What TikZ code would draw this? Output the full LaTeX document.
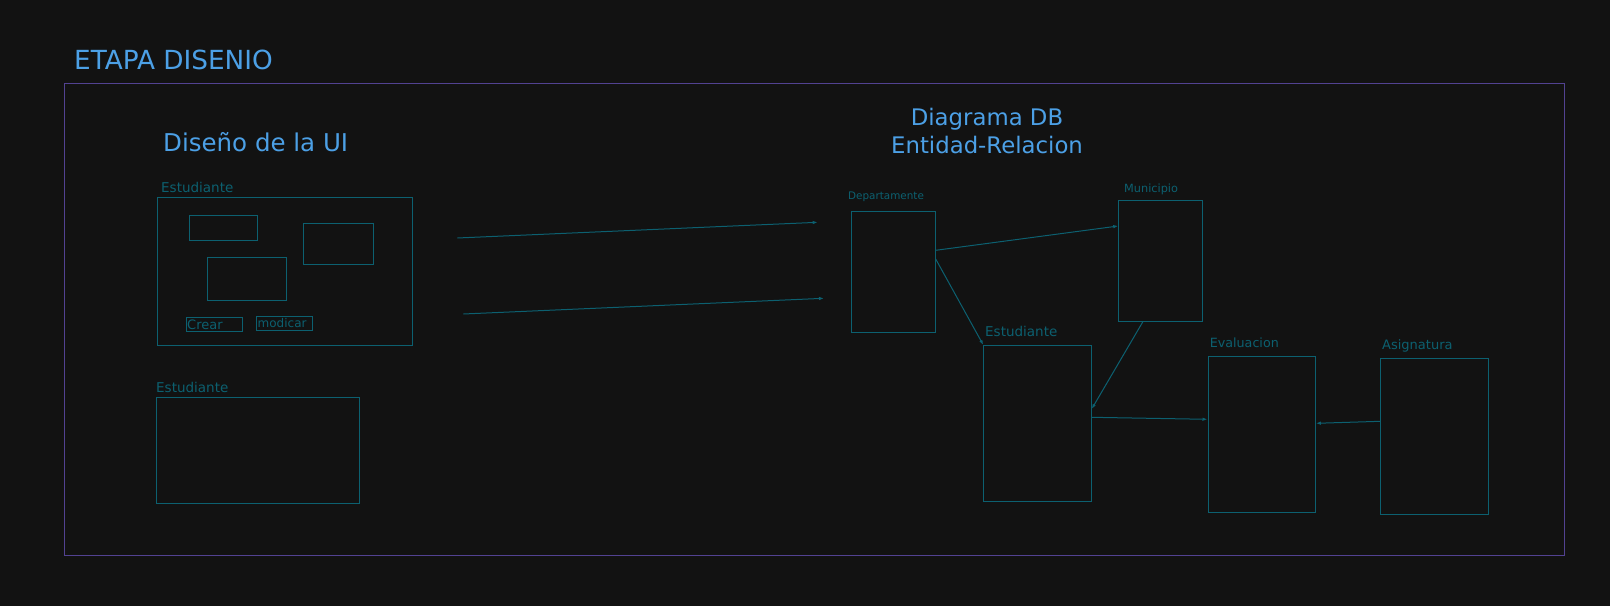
\documentclass[tikz,border=0pt]{standalone}
\usepackage{fontspec}
\setmainfont{DejaVu Sans}
\usetikzlibrary{arrows.meta}
\definecolor{bgc}{RGB}{18,18,18}
\definecolor{framec}{RGB}{82,66,145}
\definecolor{titlec}{RGB}{76,160,230}
\definecolor{tealc}{RGB}{12,96,112}
\begin{document}
\begin{tikzpicture}[x=1pt,y=-1pt,
  box/.style={draw=tealc,line width=1pt,inner sep=0pt},
  lbl/.style={text=tealc,font=\fontsize{13.5}{14}\selectfont,anchor=west,inner sep=0pt},
  ttl/.style={text=titlec,inner sep=0pt},
  conn/.style={draw=tealc,line width=1pt,-{Latex[length=5pt,width=3.5pt]}}]
\fill[bgc] (0,0) rectangle (1610,606);
\useasboundingbox (0,0) rectangle (1610,606);
% frame
\draw[framec,line width=1.3pt] (64.3,83.7) rectangle (1564.3,555.7);
\node[ttl,anchor=base west,font=\fontsize{26.3}{28}\selectfont] (etapa) at (74,69) {ETAPA DISENIO};
\node[ttl,anchor=base west,font=\fontsize{24.5}{28}\selectfont] (ui) at (163,151) {Diseño de la UI};
\node[ttl,align=center,font=\fontsize{22.8}{28}\selectfont] (db) at (987,131) {Diagrama DB\\Entidad-Relacion};
% UI mockups
\node[lbl] (l1) at (161,187) {Estudiante};
\draw[box] (157.3,197.3) rectangle (412.3,345.3);
\draw[box] (189.3,215.3) rectangle (257.3,240);
\draw[box] (303.3,223.3) rectangle (373.3,264.3);
\draw[box] (207.3,257.3) rectangle (286.3,300.3);
\draw[box] (186,317.3) rectangle (242.3,331.3);
\node[lbl,font=\fontsize{13}{13}\selectfont] (crear) at (187,324.5) {Crear};
\draw[box] (256.3,316.3) rectangle (312.3,330.3);
\node[lbl,font=\fontsize{12}{12}\selectfont] (mod) at (257.5,323.5) {modicar};
\node[lbl] (l2) at (156,387.3) {Estudiante};
\draw[box] (156.3,397.3) rectangle (359.3,503);
% arrows from UI to DB
\coordinate (a1s) at (457.3,238);
\coordinate (a1e) at (817.7,222.3);
\coordinate (a2s) at (463.3,314);
\coordinate (a2e) at (824,298.3);
\draw[conn] (a1s) -- (a1e);
\draw[conn] (a2s) -- (a2e);
% ER entities
\node[lbl,font=\fontsize{10.4}{11}\selectfont] (ldep) at (848,197) {Departamente};
\node[box,minimum width=83.7pt,minimum height=120.7pt,anchor=north west] (dep) at (851,211.3) {};
\node[lbl,font=\fontsize{11.3}{12}\selectfont] (lmun) at (1124,189) {Municipio};
\node[box,minimum width=83.4pt,minimum height=120.7pt,anchor=north west] (mun) at (1118.3,200.3) {};
\node[lbl] (lest) at (985,331.7) {Estudiante};
\node[box,minimum width=107.4pt,minimum height=156pt,anchor=north west] (est) at (983.3,345) {};
\node[lbl,font=\fontsize{12.7}{13}\selectfont] (leva) at (1209.6,342.7) {Evaluacion};
\node[box,minimum width=107.3pt,minimum height=156pt,anchor=north west] (eva) at (1207.5,356) {};
\node[lbl,font=\fontsize{13}{13}\selectfont] (lasi) at (1382,345.5) {Asignatura};
\node[box,minimum width=107.3pt,minimum height=155.7pt,anchor=north west] (asi) at (1380.4,358.3) {};
% ER connectors
\draw[conn] ([yshift=-39pt]dep.north east) -- ([yshift=-25.7pt]mun.north west);
\draw[conn] ([yshift=-47.7pt]dep.north east) -- (est.north west);
\draw[conn] ([xshift=24.4pt]mun.south west) -- ([yshift=-64pt]est.north east);
\draw[conn] ([yshift=-72.3pt]est.north east) -- ([yshift=-63.3pt]eva.north west);
\draw[conn] ([yshift=-63pt]asi.north west) -- ([yshift=-67.3pt]eva.north east);
\end{tikzpicture}
\end{document}
